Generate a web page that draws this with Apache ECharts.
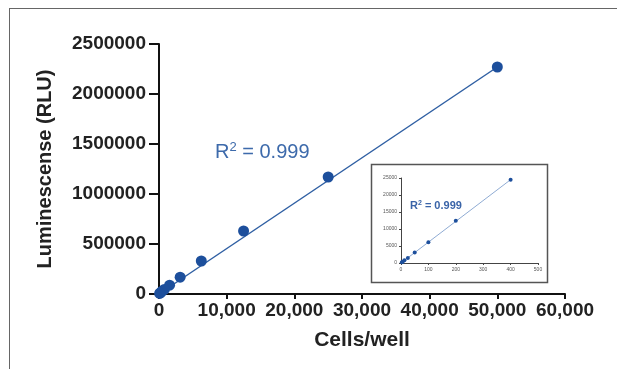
<!DOCTYPE html>
<html>
<head>
<meta charset="utf-8">
<script src="https://cdn.jsdelivr.net/npm/echarts@6/dist/echarts.min.js"></script>
<style>
  html, body { margin: 0; padding: 0; background: #fff; }
  #chart { width: 617px; height: 369px; }
</style>
</head>
<body>
<div id="chart"></div>
<script>
// main plot: cells per well vs luminescence
const mainCells = [50000, 25000, 12500, 6250, 3125, 1563, 781, 391, 195, 98];
const mainRLU = [2270000, 1170000, 630000, 330000, 168000, 88000, 46000, 24000, 12000, 6000];
const mainFit = [[0, 0], [50000, 2270000]];

// inset: low cell numbers
const insetCells = [400, 200, 100, 50, 25, 12.5, 6.25, 3.1];
const insetRLU = [24500, 12400, 6100, 3100, 1500, 800, 400, 200];
const insetFit = [[0, 0], [400, 24500]];

const r2Text = '0.999';
const xName = 'Cells/well';
const yName = 'Luminescense (RLU)';

const font = '"Liberation Sans", Arial, sans-serif';
const dotColor = '#1d4f9c';

const chart = echarts.init(document.getElementById('chart'));

const mainData = mainCells.map((c, i) => [c, mainRLU[i]]);
const insetData = insetCells.map((c, i) => [c, insetRLU[i]]);

chart.setOption({
  animation: false,
  backgroundColor: '#fff',
  grid: [
    { left: 159, right: 52, top: 44, bottom: 75, outerBoundsMode: 'none' },
    { left: 401, right: 79, top: 178, bottom: 106, outerBoundsMode: 'none' }
  ],
  xAxis: [
    {
      type: 'value', gridIndex: 0, min: 0, max: 60000, interval: 10000,
      name: xName, nameLocation: 'middle', nameGap: 36,
      nameTextStyle: { fontFamily: font, fontSize: 21, fontWeight: 'bold', color: '#222' },
      axisLine: { show: true, onZero: false, lineStyle: { color: '#111', width: 2 } },
      axisTick: { show: true, length: 5, lineStyle: { color: '#111', width: 2 } },
      splitLine: { show: false },
      axisLabel: {
        fontFamily: font, fontSize: 19, fontWeight: 'bold', color: '#222', margin: 7,
        formatter: v => v.toLocaleString('en-US')
      }
    },
    {
      type: 'value', gridIndex: 1, min: 0, max: 500, interval: 100,
      axisLine: { show: true, onZero: false, lineStyle: { color: '#444', width: 1 } },
      axisTick: { show: true, length: 2, lineStyle: { color: '#444' } },
      splitLine: { show: false },
      axisLabel: { fontFamily: font, fontSize: 5, color: '#555', margin: 4, formatter: v => String(v) }
    }
  ],
  yAxis: [
    {
      type: 'value', gridIndex: 0, min: 0, max: 2500000, interval: 500000,
      name: yName, nameLocation: 'middle', nameGap: 104, nameRotate: 90,
      nameTextStyle: { fontFamily: font, fontSize: 20, fontWeight: 'bold', color: '#222' },
      axisLine: { show: true, onZero: false, lineStyle: { color: '#111', width: 2 } },
      axisTick: { show: true, length: 10, lineStyle: { color: '#111', width: 2 } },
      splitLine: { show: false },
      axisLabel: {
        fontFamily: font, fontSize: 19, fontWeight: 'bold', color: '#222', margin: 13,
        formatter: v => String(v)
      }
    },
    {
      type: 'value', gridIndex: 1, min: 0, max: 25000, interval: 5000,
      axisLine: { show: true, onZero: false, lineStyle: { color: '#444', width: 1 } },
      axisTick: { show: true, length: 2, lineStyle: { color: '#444' } },
      splitLine: { show: false },
      axisLabel: { fontFamily: font, fontSize: 5, color: '#555', margin: 4, formatter: v => String(v) }
    }
  ],
  series: [
    {
      type: 'line', xAxisIndex: 0, yAxisIndex: 0, data: mainFit,
      symbol: 'none', lineStyle: { color: '#2f5fa3', width: 1.5 }, z: 2
    },
    {
      type: 'scatter', xAxisIndex: 0, yAxisIndex: 0, data: mainData,
      symbolSize: 11, itemStyle: { color: dotColor, opacity: 1 }, z: 3
    },
    {
      type: 'line', xAxisIndex: 1, yAxisIndex: 1, data: insetFit,
      symbol: 'none', lineStyle: { color: '#8fabd3', width: 1 }, z: 2
    },
    {
      type: 'scatter', xAxisIndex: 1, yAxisIndex: 1, data: insetData,
      symbolSize: 4, itemStyle: { color: dotColor, opacity: 1 }, z: 3
    }
  ],
  graphic: [
    // outer frame
    { type: 'line', shape: { x1: 9, y1: 8.5, x2: 617, y2: 8.5 }, style: { stroke: '#666', lineWidth: 1 } },
    { type: 'line', shape: { x1: 9.5, y1: 8, x2: 9.5, y2: 369 }, style: { stroke: '#666', lineWidth: 1 } },
    // inset box
    {
      type: 'rect', shape: { x: 371.5, y: 164.5, width: 176, height: 118 },
      style: { fill: 'none', stroke: '#555', lineWidth: 1.5 }, z: 1
    },
    {
      type: 'text', x: 215, y: 152,
      style: {
        text: '{r|R}{s|2}{r| = ' + r2Text + '}',
        verticalAlign: 'middle',
        rich: {
          r: { fontFamily: font, fontSize: 20, fill: '#3d6aab', lineHeight: 22 },
          s: { fontFamily: font, fontSize: 13, fill: '#3d6aab', verticalAlign: 'top', lineHeight: 20 }
        }
      }
    },
    {
      type: 'text', x: 410, y: 206,
      style: {
        text: '{r|R}{s|2}{r| = ' + r2Text + '}',
        verticalAlign: 'middle',
        rich: {
          r: { fontFamily: font, fontSize: 11, fontWeight: 'bold', fill: '#3a64a8', lineHeight: 12 },
          s: { fontFamily: font, fontSize: 7, fontWeight: 'bold', fill: '#3a64a8', verticalAlign: 'top', lineHeight: 12 }
        }
      },
      z: 10
    }
  ]
});

window.addEventListener('resize', function () {
  chart.resize();
});
</script>
</body>
</html>
